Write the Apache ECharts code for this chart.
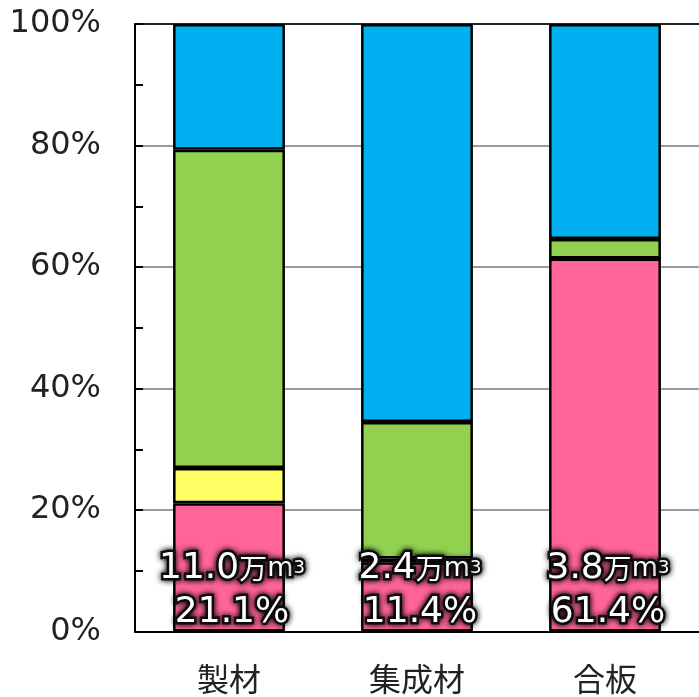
<!DOCTYPE html>
<html>
<head>
<meta charset="utf-8">
<script src="https://cdn.jsdelivr.net/npm/echarts@6/dist/echarts.min.js"></script>
<style>html,body{margin:0;padding:0;background:#fff}#c{width:699px;height:697px}</style>
</head>
<body>
<div id="c"></div>
<script>
var categories = ['製材', '集成材', '合板'];
var pinkShare = [21.1, 11.4, 61.4];
var yellowShare = [5.8, 0.6, 0];
var greenShare = [52.4, 22.5, 3.2];
var blueShare = [20.7, 65.5, 35.4];
var volumes = ['11.0', '2.4', '3.8'];
var yTicks = [0, 20, 40, 60, 80, 100];

var chart = echarts.init(document.getElementById('c'));
var border = {borderColor: '#000', borderWidth: 2.5};
function series(name, data, color, extra) {
  var s = {
    name: name, type: 'bar', stack: 'total', data: data, barWidth: '59.5%',
    itemStyle: Object.assign({color: color}, border)
  };
  return Object.assign(s, extra || {});
}
var txt = {color: '#fff', textBorderColor: '#111', textBorderWidth: 5, textShadowColor: '#000', textShadowBlur: 6, fontFamily: 'DejaVu Sans'};
chart.setOption({
  animation: false,
  grid: {left: 135, top: 24, width: 568.5, bottom: 65.5, containLabel: false},
  xAxis: {
    type: 'category', data: categories,
    axisLine: {lineStyle: {color: '#000', width: 2}},
    axisTick: {show: false},
    axisLabel: {fontSize: 32, color: '#222', margin: 31, fontFamily: 'Noto Sans CJK JP'}
  },
  yAxis: {
    type: 'value', min: yTicks[0], max: yTicks[yTicks.length - 1], interval: 20,
    axisLine: {show: true, lineStyle: {color: '#000', width: 2}},
    axisTick: {show: true, inside: true, length: 8, lineStyle: {color: '#000', width: 2}},
    minorTick: {show: true, splitNumber: 2, length: 8, lineStyle: {color: '#000', width: 2}},
    splitLine: {show: true, lineStyle: {color: ['#999', '#999', '#999', '#999', '#999', '#222'], width: 2}},
    axisLabel: {formatter: '{value}%', fontSize: 32, color: '#222', margin: 34, fontFamily: 'DejaVu Sans'}
  },
  series: [
    series('ピンク', pinkShare, '#ff6596', {
      label: {
        show: true, position: 'insideBottom', distance: 0, offset: [3, 3],
        formatter: function (p) {
          return '{big|' + volumes[p.dataIndex] + '}{small|万}{m|m}{sup|3}\n{big|' + p.value.toFixed(1) + '%}';
        },
        lineHeight: 44,
        rich: {
          big: Object.assign({fontSize: 36, lineHeight: 44}, txt),
          small: Object.assign({}, txt, {fontSize: 28, lineHeight: 44, fontFamily: 'Noto Sans CJK JP'}),
          m: Object.assign({}, txt, {fontSize: 27, lineHeight: 44}),
          sup: Object.assign({}, txt, {fontSize: 18, lineHeight: 44})
        }
      }
    }),
    series('イエロー', yellowShare, '#ffff66'),
    series('グリーン', greenShare, '#92d050'),
    series('ブルー', blueShare, '#00b0f0')
  ]
});
</script>
</body>
</html>
